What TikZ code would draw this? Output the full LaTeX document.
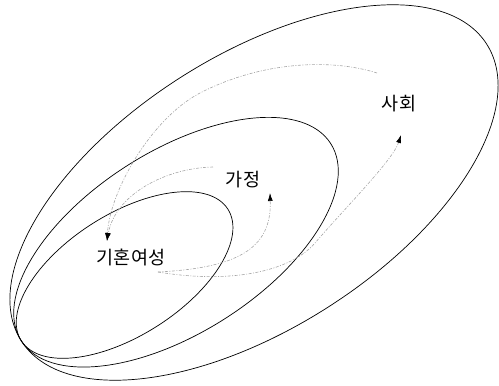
\documentclass[tikz,border=0pt]{standalone}
\usepackage{fontspec}
\newfontfamily\krfont{Noto Sans CJK KR}
\usetikzlibrary{arrows.meta}
\begin{document}
\begin{tikzpicture}[x=1pt, y=-1pt,
        ring/.style={black, line width=0.7pt},
        flow/.style={gray!70, line width=0.6pt, dash pattern=on 3pt off 1.5pt on 1pt off 1.5pt,
            -{Latex[length=8pt, width=5pt, color=black]}},
        word/.style={font=\krfont\fontsize{18.5}{20}\selectfont, inner sep=0pt}]
        \useasboundingbox (0,0) rectangle (499,386);
        % Rings
        \draw[ring, rotate around={32.5:(254,192.5)}] (254,192.5) ellipse [x radius=276pt, y radius=136.5pt];
        \draw[ring, rotate around={32.5:(176,242.2)}] (176,242.2) ellipse [x radius=183.5pt, y radius=90.8pt];
        \draw[ring, rotate around={32.5:(124.6,275)}] (124.6,275) ellipse [x radius=122.5pt, y radius=60.6pt];
        % Labels
        \node[word] (wife) at (131,257) {기혼여성};
        \node[word] (home) at (243,180) {가정};
        \node[word] (society) at (399,104) {사회};
        % Arrow ends
        \coordinate (wifeOut) at (158,272);
        \coordinate (wifeIn) at (107,241);
        \coordinate (homeIn) at (270,193);
        \coordinate (homeOut) at (213,167);
        \coordinate (societyIn) at (401,135);
        \coordinate (societyOut) at (377,73);
        % Outward
        \draw[flow] (wifeOut) .. controls (235,268) and (272,250) .. (homeIn);
        \draw[flow] (wifeOut) .. controls (230,284) and (290,272) .. (315,243)
            .. controls (345,208) and (393,160) .. (societyIn);
        % Inward
        \draw[flow] (societyOut) .. controls (330,58) and (260,62) .. (200,93)
            .. controls (152,118) and (110,190) .. (wifeIn);
        \draw[flow] (homeOut) .. controls (165,168) and (115,195) .. (wifeIn);
\end{tikzpicture}
\end{document}
